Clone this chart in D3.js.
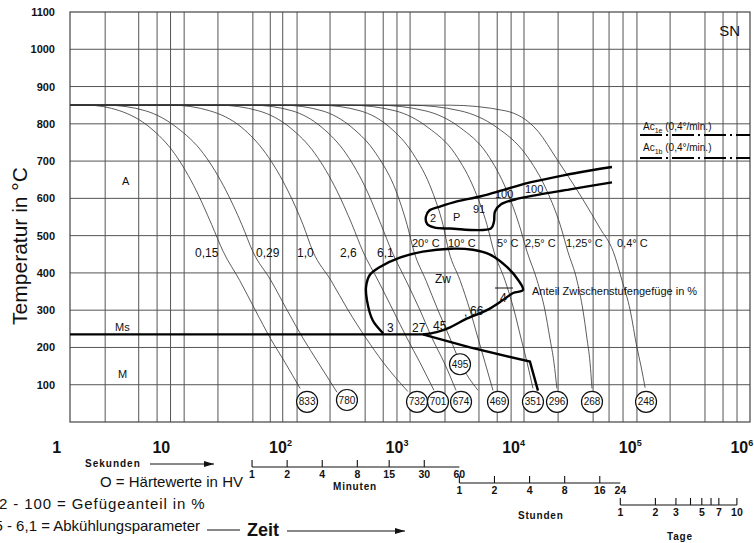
<!DOCTYPE html>
<html>
<head>
<meta charset="utf-8">
<script src="https://cdn.jsdelivr.net/npm/d3@7"></script>
<style>
  body { margin: 0; background: #fff; }
  text { font-family: "Liberation Sans", Arial, sans-serif; fill: #111; }
</style>
</head>
<body>
<svg id="chart" width="754" height="543"></svg>
<script>
// ---- data (time in s, temperature in °C) ----
const tempGrid = [100, 200, 300, 400, 500, 600, 700, 800, 900, 1000];
const tempTicks = [100, 200, 300, 400, 500, 600, 700, 800, 900, 1000, 1100];
const gridTimes = [3.3, 6.4, 9.2, 12, 15.7, 30.6, 61, 86, 110, 146, 280, 560, 800, 1050, 1360,
  2710, 5300, 7600, 10000, 12900, 25300, 50500, 69200, 91200, 120000, 231000, 460000, 657000, 866000];
const decadeExp = [0, 1, 2, 3, 4, 5, 6];

const curve015 = [[1.65,850],[2.3,850],[4.4,835],[8,790],[13,720],[20,620],[27,530],[34,457],[47,380],[64,300],[86,225],[115,160],[155,90]];
const curve029 = [[1.65,850],[3.4,850],[7.3,835],[13.6,790],[23,720],[36,620],[49,530],[61,457],[87,380],[120,300],[164,225],[221,160],[321,80]];
const curve10 = [[1.65,850],[12.4,850],[26,835],[49,790],[79,720],[122,620],[164,530],[200,457],[285,380],[400,300],[570,225],[800,160],[1300,82]];
const curve26 = [[1.65,850],[31,850],[68,835],[127,790],[208,720],[321,620],[432,530],[537,457],[722,380],[971,300],[1280,225],[1650,160],[2180,85]];
const curve61 = [[1.65,850],[61,850],[132,835],[239,790],[384,720],[581,620],[766,530],[951,457],[1254,380],[1654,300],[2100,225],[2660,160],[3370,85]];
const curve20C = [[1.65,850],[111,850],[239,835],[432,790],[694,720],[1030,620],[1280,530],[1470,457],[1860,380],[2360,300],[2990,225],[3650,160],[5200,85]];
const curve10C = [[1.65,850],[230,850],[506,835],[915,790],[1440,720],[2100,620],[2600,530],[2930,457],[3650,380],[4440,300],[5200,225],[5970,160],[6990,85]];
const curve5C = [[1.65,850],[415,850],[1010,835],[1940,790],[3300,720],[4900,620],[6200,530],[7130,457],[8860,380],[10600,300],[12150,225],[13700,160],[15400,90]];
const curve25C = [[1.65,850],[720,850],[1830,835],[3650,790],[6200,720],[9200,620],[11700,530],[13700,457],[16700,380],[19500,300],[21500,225],[23300,160],[24700,90]];
const curve125C = [[1.65,850],[1360,850],[3650,835],[7570,790],[13200,720],[20300,620],[26300,530],[30700,457],[36700,380],[41300,300],[44700,225],[47500,160],[49400,90]];
const curve04C = [[1.65,850],[3000,850],[8900,835],[17000,780],[24700,705],[41300,597],[57800,520],[75200,457],[89300,380],[105000,300],[120000,200],[130000,150],[141000,92]];
const coolingCurves = [curve015, curve029, curve10, curve26, curve61, curve20C, curve10C, curve5C, curve25C, curve125C, curve04C];

const lambdaLabels = ["0,15", "0,29", "1,0", "2,6", "6,1"];
const rateLabels = ["20° C", "10° C", "5° C", "2,5° C", "1,25° C", "0,4° C"];

const hardnessValues = [833, 780, 732, 701, 674, 495, 469, 351, 296, 268, 248];
const hardnessTimes = [178, 391, 1560, 2360, 3720, 3645, 7720, 15400, 24750, 49400, 143600];
const hardnessTemps = [54, 59, 54, 54, 54, 155, 54, 54, 54, 54, 54];

const pearliteArea = [[73300,684],[39000,670],[23800,657],[13700,641],[8500,622],[5400,605],[3430,592],[2450,578],[2000,568],[1860,551],[1900,532],[2180,522],[3000,519],[6700,519],[7130,538],[7270,565],[8200,584],[10800,597],[16000,608],[32000,624],[73300,643]];
const bainiteArea = [[800,238],[650,273],[580,327],[570,362],[615,395],[750,416],[1110,441],[1750,457],[3000,465],[4700,462],[6600,449],[9200,416],[11500,381],[12650,354],[10400,346],[8500,327],[6200,300],[4200,278],[3000,254],[2300,241],[1750,235]];
const msLine = [[1.65,235],[1750,235],[4440,200],[14500,162],[17000,84]];
const ac1e = [[127500,770],[1.119e6,770]];
const ac1b = [[127500,708],[1.119e6,708]];

const minuteTicks = [1, 2, 4, 8, 15, 30, 60];
const hourTicks = [1, 2, 4, 8, 16, 24];
const dayTicks = [1, 2, 3, 4, 5, 6, 7, 10];
const dayLabels = [1, 2, 3, 5, 7, 10];

// ---- chart ----
const svg = d3.select("#chart");
const x = d3.scaleLog().domain([1.648, 1.119e6]).range([70, 750]);
const y = d3.scaleLinear().domain([0, 1100]).range([422, 12]);

const defs = svg.append("defs");
defs.append("marker").attr("id", "arr").attr("viewBox", "0 0 10 6")
  .attr("refX", 10).attr("refY", 3).attr("markerWidth", 10).attr("markerHeight", 6)
  .attr("markerUnits", "userSpaceOnUse").attr("orient", "auto")
  .append("path").attr("d", "M0,0L10,3L0,6Z").attr("fill", "#111");

// grid
const grid = svg.append("g").attr("stroke", "#555").attr("stroke-width", 1);
grid.selectAll(".vg").data(gridTimes).join("line")
  .attr("x1", d => x(d)).attr("x2", d => x(d)).attr("y1", y(0)).attr("y2", y(1100));
grid.selectAll(".hg").data(tempGrid).join("line")
  .attr("x1", x.range()[0]).attr("x2", x.range()[1]).attr("y1", d => y(d)).attr("y2", d => y(d));
svg.append("rect").attr("x", 70).attr("y", y(1100)).attr("width", 680).attr("height", y(0) - y(1100))
  .attr("fill", "none").attr("stroke", "#444").attr("stroke-width", 1.2);

// y labels
svg.append("g").selectAll("text").data(tempTicks).join("text")
  .attr("x", 55).attr("y", d => y(d) + 4).attr("text-anchor", "end")
  .attr("font-size", 11).attr("font-weight", "bold").text(d => d);
svg.append("text").attr("transform", "translate(27,246) rotate(-90)")
  .attr("text-anchor", "middle").attr("font-size", 21).text("Temperatur in °C");

// cooling curves
const cool = d3.line().x(d => x(d[0])).y(d => y(d[1])).curve(d3.curveMonotoneX);
svg.append("g").selectAll("path").data(coolingCurves).join("path")
  .attr("d", cool).attr("fill", "none").attr("stroke", "#333").attr("stroke-width", 0.8);

// transformation lines
const smooth = d3.line().x(d => x(d[0])).y(d => y(d[1])).curve(d3.curveCatmullRom.alpha(0.5));
const straight = d3.line().x(d => x(d[0])).y(d => y(d[1]));
svg.append("path").attr("d", smooth(pearliteArea)).attr("fill", "none").attr("stroke", "#000").attr("stroke-width", 2.4);
svg.append("path").attr("d", smooth(bainiteArea)).attr("fill", "none").attr("stroke", "#000").attr("stroke-width", 2.4);
svg.append("path").attr("d", straight(msLine)).attr("fill", "none").attr("stroke", "#000").attr("stroke-width", 2.4);
[ac1e, ac1b].forEach(a => svg.append("path").attr("d", straight(a)).attr("fill", "none")
  .attr("stroke", "#000").attr("stroke-width", 2).attr("stroke-dasharray", "22,4,2,4"));

// hardness circles
const hv = svg.append("g").selectAll("g").data(hardnessValues).join("g")
  .attr("transform", (d, i) => `translate(${x(hardnessTimes[i])},${y(hardnessTemps[i])})`);
hv.append("circle").attr("r", 10.5).attr("fill", "#fff").attr("stroke", "#111").attr("stroke-width", 1.2);
hv.append("text").attr("y", 3.5).attr("text-anchor", "middle").attr("font-size", 10).text(d => d);

// curve labels
const lambdaX = [195, 256, 297, 340, 377];
svg.append("g").selectAll("text").data(lambdaLabels).join("text")
  .attr("x", (d, i) => lambdaX[i]).attr("y", 257).attr("font-size", 12).text(d => d);
const rateX = [412, 448, 497, 525, 566, 617];
svg.append("g").selectAll("text").data(rateLabels).join("text")
  .attr("x", (d, i) => rateX[i]).attr("y", 247).attr("font-size", 11).text(d => d);

// annotations
const notes = [
  ["A", 122, 185, 11], ["Ms", 115, 331, 11], ["M", 118, 378, 11],
  ["2", 430, 222, 11], ["P", 453, 221, 11], ["91", 473, 213, 11],
  ["100", 495, 198, 11], ["100", 525, 193, 11], ["Zw", 435, 283, 12],
  ["3", 387, 332, 12], ["27", 412, 332, 12], ["45", 433, 330, 12],
  ["66", 470, 315, 12], [",", 464, 316, 12], ["4", 500, 302, 12],
  ["Anteil Zwischenstufengefüge in %", 532, 295, 11]
];
svg.append("g").selectAll("text").data(notes).join("text")
  .attr("x", d => d[1]).attr("y", d => d[2]).attr("font-size", d => d[3]).text(d => d[0]);
svg.append("line").attr("x1", 495).attr("x2", 513).attr("y1", 288).attr("y2", 288)
  .attr("stroke", "#111").attr("stroke-width", 1);
svg.append("text").attr("x", 740).attr("y", 36).attr("text-anchor", "end").attr("font-size", 15).text("SN");

const acText = svg.append("g").attr("font-size", 10);
[["1e", 130], ["1b", 151]].forEach(([s, yy]) => {
  const t = acText.append("text").attr("x", 643).attr("y", yy);
  t.append("tspan").text("Ac");
  t.append("tspan").attr("dy", 3).attr("font-size", 7).text(s);
  t.append("tspan").attr("dy", -3).text(" (0,4°/min.)");
});

// bottom: decades
const bx = svg.append("g").attr("font-weight", "bold");
decadeExp.forEach(e => {
  const cx = x(Math.pow(10, e)) + (e === 0 ? 12 : e === 6 ? -5 : 0);
  bx.append("text").attr("x", cx).attr("y", 453).attr("text-anchor", "middle")
    .attr("font-size", 16).text(e === 0 ? "1" : "10");
  if (e > 1) bx.append("text").attr("x", cx + 9).attr("y", 446).attr("font-size", 9).text(e);
});
bx.append("text").attr("x", 85).attr("y", 467).attr("font-size", 10).attr("letter-spacing", 1).text("Sekunden");
bx.append("line").attr("x1", 150).attr("x2", 214).attr("y1", 464).attr("y2", 464)
  .attr("stroke", "#111").attr("stroke-width", 1).attr("marker-end", "url(#arr)");

// sub time scales
function subScale(ticks, labels, factor, yLine, tickSkipLast) {
  const gs = svg.append("g");
  gs.append("line").attr("x1", x(ticks[0] * factor)).attr("x2", x(ticks[ticks.length - 1] * factor))
    .attr("y1", yLine).attr("y2", yLine).attr("stroke", "#111").attr("stroke-width", 1.1);
  const tk = tickSkipLast ? ticks.slice(0, -1) : ticks;
  gs.selectAll("line.t").data(tk).join("line")
    .attr("x1", d => x(d * factor)).attr("x2", d => x(d * factor))
    .attr("y1", yLine - 7).attr("y2", yLine).attr("stroke", "#111").attr("stroke-width", 1.1);
  gs.selectAll("text").data(labels).join("text")
    .attr("x", d => x(d * factor)).attr("y", yLine + 11).attr("text-anchor", "middle")
    .attr("font-size", 10.5).attr("font-weight", "bold").text(d => d);
}
subScale(minuteTicks, minuteTicks, 60, 467, true);
subScale(hourTicks, hourTicks, 3600, 483, true);
subScale(dayTicks, dayLabels, 86400, 505, false);
bx.append("text").attr("x", 333).attr("y", 490).attr("font-size", 10).attr("letter-spacing", 0.8).text("Minuten");
bx.append("text").attr("x", 518).attr("y", 519).attr("font-size", 10).attr("letter-spacing", 0.8).text("Stunden");
bx.append("text").attr("x", 667).attr("y", 540).attr("font-size", 10).attr("letter-spacing", 0.8).text("Tage");

// legend
const lg = svg.append("g").attr("font-size", 15);
lg.append("text").attr("x", 100).attr("y", 487).text("O = Härtewerte in HV");
lg.append("text").attr("x", -1).attr("y", 509).attr("letter-spacing", 0.9).text("2 - 100 = Gefügeanteil in %");
lg.append("text").attr("x", 200).attr("y", 531).attr("text-anchor", "end").text("0,15 - 6,1 = Abkühlungsparameter");
bx.append("text").attr("x", 247).attr("y", 536).attr("font-size", 18).text("Zeit");
bx.append("line").attr("x1", 207).attr("x2", 240).attr("y1", 530).attr("y2", 530).attr("stroke", "#111").attr("stroke-width", 1);
bx.append("line").attr("x1", 287).attr("x2", 405).attr("y1", 531).attr("y2", 531)
  .attr("stroke", "#111").attr("stroke-width", 1).attr("marker-end", "url(#arr)");
</script>
</body>
</html>
